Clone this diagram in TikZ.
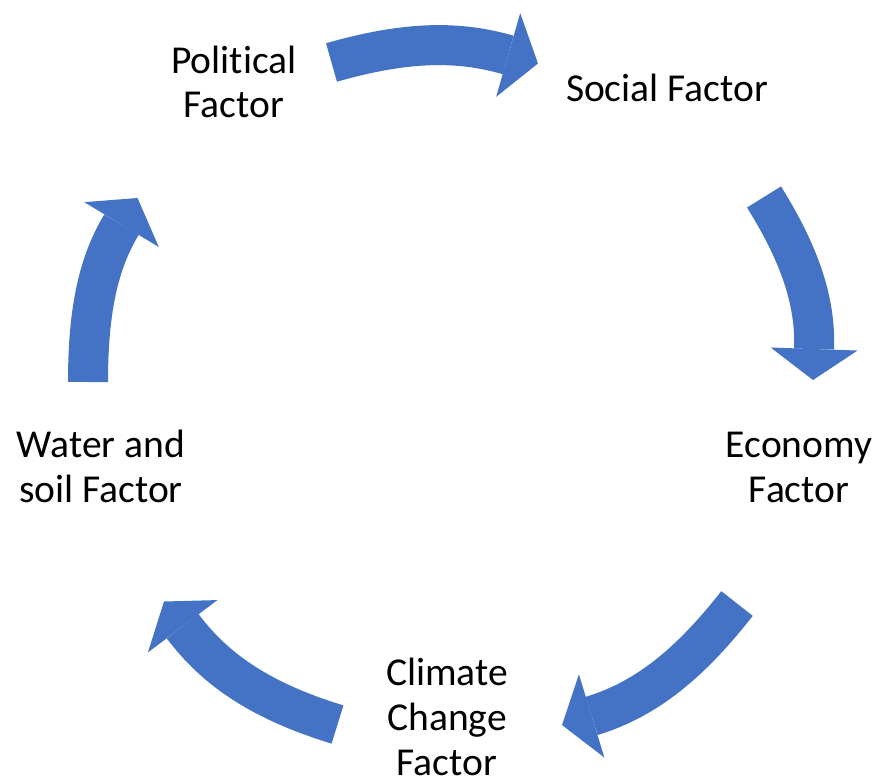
\documentclass[tikz,border=0pt]{standalone}
\usepackage{fontspec}
\setmainfont{Carlito}[Ligatures=NoCommon]
\usetikzlibrary{arrows.meta}
\definecolor{cycblue}{HTML}{4472C4}
\tikzset{
  cyc/.style={cycblue, line width=0.8cm,
    -{Triangle[width=1.74cm, length=0.62cm, line width=0pt]}},
  lab/.style={align=center, anchor=base, font=\fontsize{22.5}{25.6}\selectfont}
}
\begin{document}
\begin{tikzpicture}
    \useasboundingbox (0,0) rectangle (17.56,15.64);
    % arrow ends: tail and tip of each arrow
    \coordinate (t1) at (6.63,14.39);  \coordinate (h1) at (10.76,14.37);
    \coordinate (t2) at (15.28,11.70); \coordinate (h2) at (16.26,8.04);
    \coordinate (t3) at (14.74,3.57);  \coordinate (h3) at (11.24,1.14);
    \coordinate (t4) at (6.75,1.15);   \coordinate (h4) at (3.28,3.61);
    \coordinate (t5) at (1.76,8.00);   \coordinate (h5) at (2.75,11.68);

    \foreach \n/\o/\i in {1/16/164, 2/-58/88, 3/232/17, 4/163/-53, 5/90/-121}
        \draw[cyc] (t\n) to[out=\o, in=\i] (h\n);

    % base anchor is the last line of each label
    \node[lab] (pol) at (4.68,13.28) {Political\\Factor};
    \node[lab] (soc) at (13.34,13.60) {Social Factor};
    \node[lab] (eco) at (15.98,5.60) {Economy\\Factor};
    \node[lab] (cli) at (8.94,0.14) {Climate\\Change\\Factor};
    \node[lab] (wat) at (2.02,5.60) {Water and\\soil Factor};
\end{tikzpicture}
\end{document}
